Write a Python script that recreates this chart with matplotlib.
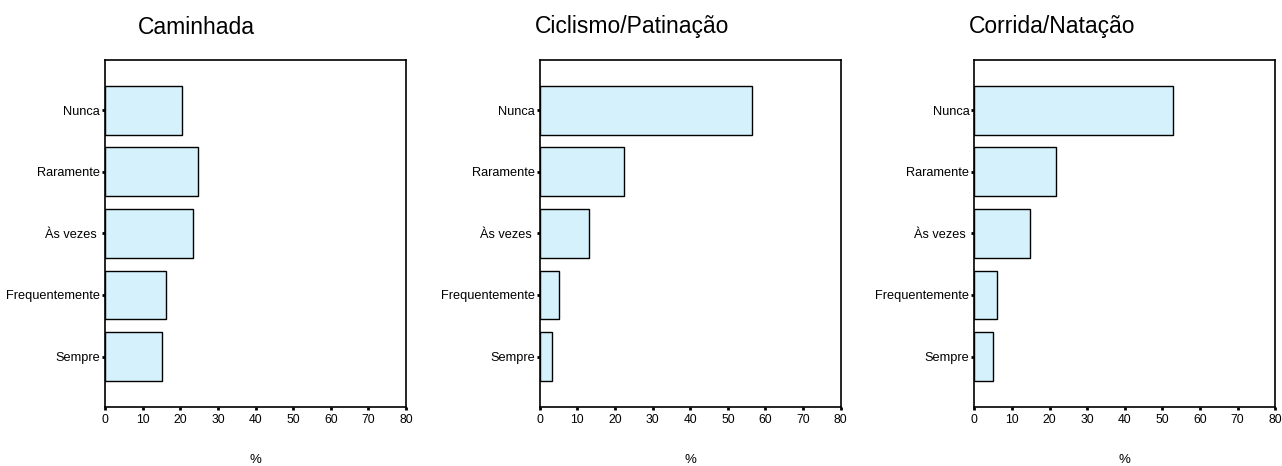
import numpy as np
import matplotlib.pyplot as plt

plt.rcParams['font.family'] = ['Liberation Sans', 'DejaVu Sans']

categorias = ["Nunca", "Raramente", "Às vezes ", "Frequentemente", "Sempre"]
titulos = ["Caminhada", "Ciclismo/Patinação", "Corrida/Natação"]
caminhada = [20.5, 24.8, 23.5, 16.2, 15.2]
ciclismo = [56.5, 22.3, 13.1, 5.0, 3.4]
corrida = [52.7, 21.8, 14.7, 6.1, 4.9]
xticks = [0, 10, 20, 30, 40, 50, 60, 70, 80]

W, H = 1282, 466
fig = plt.figure(figsize=(W / 100, H / 100), dpi=100)

lefts = [105, 539.7, 974.3]
title_x = [138, 535, 969]
top, bottom, width = 60, 406.7, 301

for i, vals in enumerate([caminhada, ciclismo, corrida]):
    ax = fig.add_axes([lefts[i] / W, 1 - bottom / H, width / W, (bottom - top) / H])
    y = np.arange(len(categorias))[::-1]
    ax.barh(y, vals, height=0.79, color="#d4f1fc", edgecolor="black", linewidth=1)
    ax.set_xlim(0, 80)
    ax.set_ylim(-0.815, 4.815)
    ax.set_xticks(xticks)
    ax.set_xticklabels([str(t) for t in xticks], fontsize=8.7)
    ax.set_yticks(y)
    ax.set_yticklabels(categorias, fontsize=9.2)
    ax.tick_params(axis="y", length=2.5, width=2, pad=1)
    ax.tick_params(axis="x", length=2.5, width=2, pad=3)
    for s in ax.spines.values():
        s.set_linewidth(1.2)
    ax.set_xlabel("%", fontsize=9.5, labelpad=20)
    fig.text(title_x[i] / W, 1 - 27 / H, titulos[i], fontsize=16.5,
             ha="left", va="center")

fig.savefig("out.png", dpi=100)
